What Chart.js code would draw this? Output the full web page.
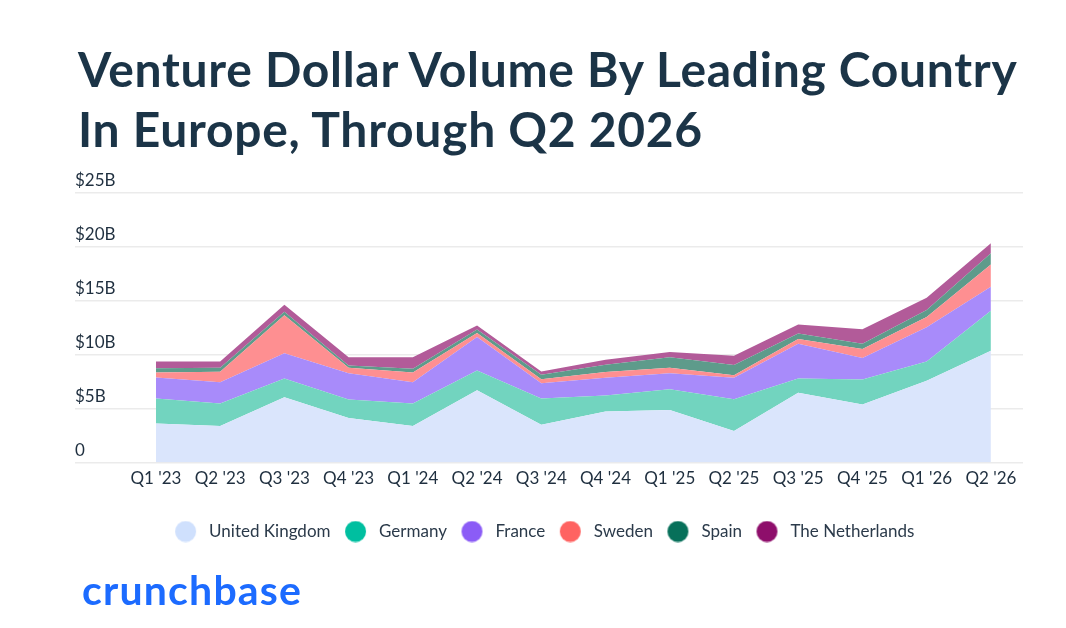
<!DOCTYPE html>
<html lang="en">
<head>
  <meta charset="UTF-8" />
  <title>Venture Dollar Volume By Leading Country In Europe</title>
  <script src="https://cdn.jsdelivr.net/npm/chart.js"></script>
  <style>
    html, body { margin: 0; padding: 0; background: #fff; }
    .page { position: relative; width: 1066px; height: 628px; overflow: hidden; font-family: Lato, sans-serif; }
    h1 {
      position: absolute; left: 78px; top: 39px; margin: 0;
      font-size: 48px; line-height: 60px; font-weight: 700; color: #1b3447; letter-spacing: 0.7px;
    }
    .chart-box { position: absolute; left: 0; top: 0; width: 1066px; height: 628px; }
    .logo {
      position: absolute; left: 82px; top: 565px; line-height: 50px;
      font-size: 41px; font-weight: 700; color: #1c6bff; letter-spacing: 1.2px;
    }
  </style>
</head>
<body>
  <div class="page">
    <div class="chart-box"><canvas id="areaChart"></canvas></div>
    <h1>Venture Dollar Volume By Leading Country<br/>In Europe, Through Q2 2026</h1>
    <div class="logo">crunchbase</div>
  </div>

  <script>
    // quarters and $B per country
    const quarters = ["Q1 '23", "Q2 '23", "Q3 '23", "Q4 '23", "Q1 '24", "Q2 '24", "Q3 '24",
                      "Q4 '24", "Q1 '25", "Q2 '25", "Q3 '25", "Q4 '25", "Q1 '26", "Q2 '26"];
    const uk          = [3.63, 3.39, 6.06, 4.14, 3.39, 6.71, 3.51, 4.75, 4.88, 2.92, 6.47, 5.38, 7.58, 10.38];
    const germany     = [2.31, 2.08, 1.74, 1.70, 2.08, 1.84, 2.43, 1.47, 1.92, 2.95, 1.33, 2.33, 1.80, 3.70];
    const france      = [1.95, 1.99, 2.33, 2.45, 1.99, 3.10, 1.42, 1.64, 1.49, 1.99, 3.23, 1.98, 3.17, 2.23];
    const sweden      = [0.47, 0.96, 3.54, 0.51, 0.90, 0.37, 0.38, 0.53, 0.51, 0.25, 0.43, 0.84, 0.96, 2.05];
    const spain       = [0.40, 0.38, 0.31, 0.21, 0.34, 0.32, 0.41, 0.68, 0.96, 0.93, 0.50, 0.50, 0.63, 1.06];
    const netherlands = [0.62, 0.58, 0.65, 0.75, 1.06, 0.37, 0.30, 0.47, 0.49, 0.87, 0.84, 1.34, 1.14, 0.93];
    const yTicks = [0, 5, 10, 15, 20, 25];

    const series = [
      { name: 'United Kingdom',  values: uk,          color: '#cfe0fd', fill: '#dae5fc' },
      { name: 'Germany',         values: germany,     color: '#00bfa0', fill: '#72d4bf' },
      { name: 'France',          values: france,      color: '#8b5cf6', fill: '#a88bfa' },
      { name: 'Sweden',          values: sweden,      color: '#ff6361', fill: '#fe8f91' },
      { name: 'Spain',           values: spain,       color: '#07705a', fill: '#5e9b8b' },
      { name: 'The Netherlands', values: netherlands, color: '#8e0e6b', fill: '#b25b99' }
    ];

    const tickColor = '#1f2f3f';

    // legend dot: circle sits left of centre so the gap to the text is wider
    function legendDot(color) {
      const c = document.createElement('canvas');
      c.width = 40;
      c.height = 22;
      const ctx = c.getContext('2d');
      ctx.fillStyle = color;
      ctx.beginPath();
      ctx.arc(13.5, 11, 10.5, 0, Math.PI * 2);
      ctx.fill();
      return c;
    }

    new Chart(document.getElementById('areaChart'), {
      type: 'line',
      data: {
        datasets: series.map((s, i) => ({
          label: s.name,
          data: s.values.map((v, j) => ({ x: j, y: v })),
          backgroundColor: s.color,
          borderColor: s.color,
          borderWidth: 0,
          pointRadius: 0,
          pointStyle: legendDot(s.color),
          tension: 0,
          fill: { target: i === 0 ? 'origin' : '-1', above: s.fill, below: s.fill }
        }))
      },
      options: {
        responsive: true,
        maintainAspectRatio: false,
        animation: false,
        layout: { padding: { left: 75, right: 43, top: 193, bottom: 78 } },
        plugins: {
          tooltip: { enabled: false },
          legend: {
            position: 'bottom',
            labels: {
              usePointStyle: true,
              boxWidth: 17,
              boxHeight: 17,
              padding: 23,
              color: '#2b3a4a',
              font: { family: 'Lato', size: 17 }
            }
          }
        },
        scales: {
          x: {
            type: 'linear',
            min: -1.26,
            max: 13.5,
            afterBuildTicks: axis => { axis.ticks = quarters.map((q, i) => ({ value: i })); },
            afterFit: axis => { axis.height += 5; },
            grid: { display: false, drawTicks: false },
            border: { display: false },
            ticks: {
              autoSkip: false,
              maxRotation: 0,
              padding: 6,
              color: tickColor,
              font: { family: 'Lato', size: 17 },
              callback: v => quarters[v]
            }
          },
          y: {
            stacked: true,
            min: 0,
            max: 25,
            afterBuildTicks: axis => { axis.ticks = yTicks.map(v => ({ value: v })); },
            border: { display: false },
            grid: { color: '#ebebeb', lineWidth: 1.5, drawTicks: false },
            ticks: {
              mirror: true,
              padding: 0,
              labelOffset: -12,
              color: tickColor,
              font: { family: 'Lato', size: 17 },
              callback: v => v === 0 ? '0' : '$' + v + 'B'
            }
          }
        }
      }
    });
  </script>
</body>
</html>
